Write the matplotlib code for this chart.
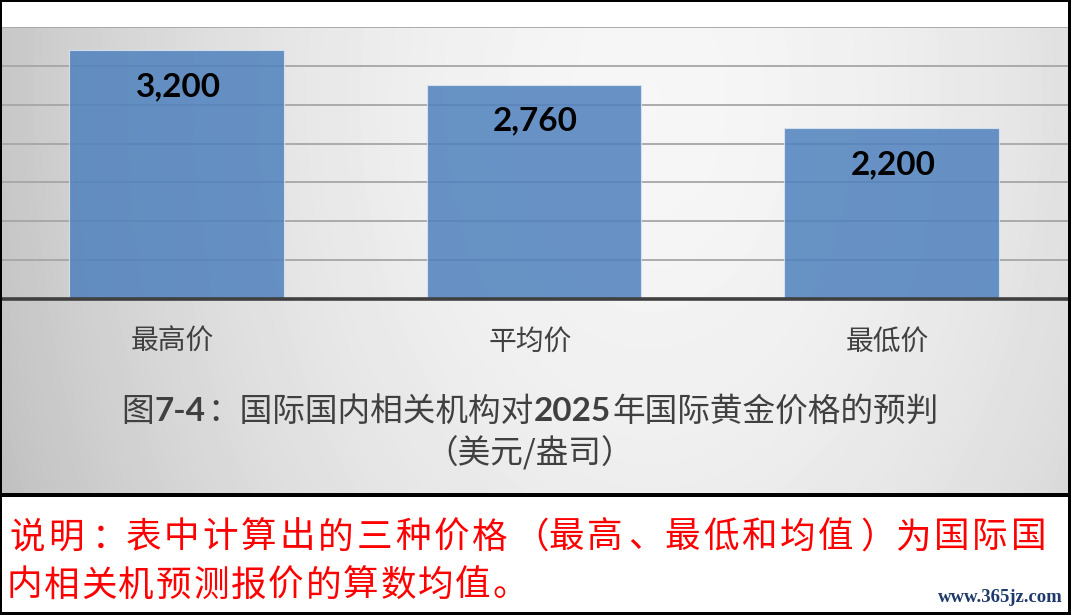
import numpy as np
import matplotlib
matplotlib.use('Agg')
import matplotlib.pyplot as plt
from matplotlib.patches import Rectangle

# ---------------- data ----------------
categories = ['最高价', '平均价', '最低价']
values = [3200, 2760, 2200]
value_labels = ['3,200', '2,760', '2,200']
yticks = [0, 500, 1000, 1500, 2000, 2500, 3000, 3500]
title_parts = [('图', False), ('7-4', True), ('：国际国内相关机构对', False),
               ('2025', True), ('年国际黄金价格的预判', False)]
subtitle = '（美元/盎司）'
note_line1 = '说明：表中计算出的三种价格（最高、最低和均值）为国际国'
note_line2 = '内相关机预测报价的算数均值。'
watermark = 'www.365jz.com'

CJK = ['Noto Sans CJK SC', 'DejaVu Sans']
W, H = 1071, 615
fig = plt.figure(figsize=(W / 100, H / 100), dpi=100)
fig.patch.set_facecolor('white')


def rect(x0, y0, x1, y1):
    return [x0 / W, 1 - y1 / H, (x1 - x0) / W, (y1 - y0) / H]


# ---------------- gradient panel ----------------
bg = fig.add_axes(rect(1, 27, 1068, 494), zorder=0)
xx, yy = np.meshgrid(np.arange(1, 1068), np.arange(27, 494))
r = np.sqrt(((xx - 650) / 600.0) ** 2 + ((yy - 100) / 900.0) ** 2)
val = np.clip(0.965 - 0.16 * r ** 1.8, 0, 1)
bg.imshow(val, cmap='gray', vmin=0, vmax=1, aspect='auto', interpolation='bilinear')
bg.axis('off')

# ---------------- bar chart ----------------
ax = fig.add_axes(rect(1, 27, 1068, 299), zorder=2)
ax.patch.set_alpha(0)
x = np.arange(len(categories))
ax.bar(x, values, width=0.6, color='#4f81bd', alpha=0.85,
       edgecolor='#dce6f2', linewidth=0.8, zorder=3)
ax.set_xlim(-0.491, 2.494)
ax.set_ylim(0, 3500)
ax.set_yticks(yticks)
ax.yaxis.grid(True, color='#a6a6a6', linewidth=1.3)
ax.set_axisbelow(True)
ax.tick_params(left=False, bottom=False, labelleft=False, labelbottom=False)
for s in ['top', 'left', 'right']:
    ax.spines[s].set_visible(False)
ax.spines['bottom'].set_color('#404040')
ax.spines['bottom'].set_linewidth(2.6)
ax.spines['bottom'].set_zorder(5)

for i, (v, lbl) in enumerate(zip(values, value_labels)):
    ax.annotate(lbl, (i, v), xytext=(1.5 * 0.72, -46 * 0.72), textcoords='offset points',
                ha='center', va='baseline', fontsize=24, fontweight='bold',
                family=['Lato', 'DejaVu Sans'], color='black', zorder=6)

for i, c in enumerate(categories):
    ax.annotate(c, (i, 0), xycoords=('data', 'axes fraction'),
                xytext=(-4 * 0.72, -51 * 0.72), textcoords='offset points',
                ha='center', va='baseline', fontsize=20, family=CJK,
                color='#404040', annotation_clip=False)

# ---------------- overlay (pixel coordinates) ----------------
ov = fig.add_axes([0, 0, 1, 1], zorder=10)
ov.set_xlim(0, W)
ov.set_ylim(H, 0)
ov.axis('off')
ov.patch.set_alpha(0)

# title built from pieces (bold digits)
renderer = fig.canvas.get_renderer()
pieces = []
for txt, bold in title_parts:
    if bold:
        t = ov.text(0, 421, txt, ha='left', va='baseline', fontsize=24,
                    fontweight='bold', family=['Lato', 'DejaVu Sans'], color='#404040')
    else:
        t = ov.text(0, 421, txt, ha='left', va='baseline', fontsize=23.5,
                    family=CJK, color='#404040')
    pieces.append(t)
widths = [p.get_window_extent(renderer).width for p in pieces]
gap = 1
total = sum(widths) + gap * (len(widths) - 1)
cx = 530 - total / 2
for p, w in zip(pieces, widths):
    p.set_x(cx)
    cx += w + gap

ov.text(530, 464, subtitle, ha='center', va='baseline', fontsize=23.5,
        family=CJK, color='#404040')

# note text (red), placed glyph by glyph to match the justified layout
punct = {'：': ('left', -13), '、': ('left', -15), '（': ('center', 3),
         '）': ('left', -14), '。': ('left', -18)}


def place_line(s, c0, pitch, base):
    for i, ch in enumerate(s):
        c = c0 + i * pitch
        ha, off = punct.get(ch, ('center', 0))
        ov.text(c + off, base, ch, ha=ha, va='baseline', fontsize=25.6,
                family=CJK, color='#ff0000')


place_line(note_line1, 27.5, 38.5, 547.5)
place_line(note_line2, 24, 37.4, 595.5)

ov.text(1063, 598, watermark, ha='right', va='center', fontsize=13.5,
        fontweight='bold', family=['Liberation Serif', 'DejaVu Serif'], color='#1f3a6a')

# borders
for (x0, y0, w, h) in [(0, 0, 2, H), (0, 0, W, 1.5), (1068, 0, 3, H),
                       (0, 612, W, 3), (0, 493, W, 4)]:
    ov.add_patch(Rectangle((x0, y0), w, h, facecolor='black', edgecolor='none'))

fig.savefig('out.png', dpi=100, facecolor='white')
